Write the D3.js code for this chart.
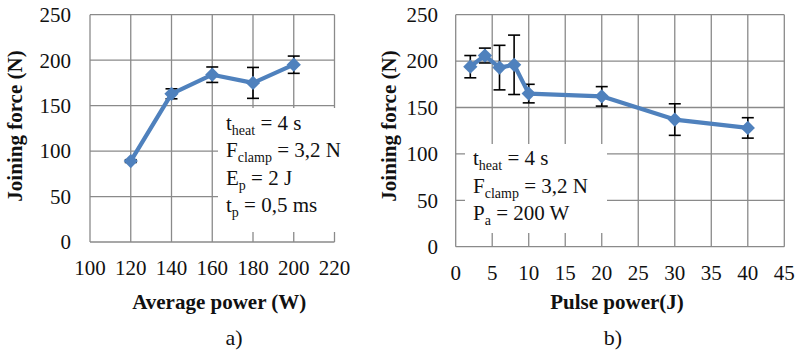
<!DOCTYPE html>
<html><head><meta charset="utf-8">
<script src="https://cdn.jsdelivr.net/npm/d3@7"></script>
<style>
html,body{margin:0;padding:0;background:#fff;}
svg{display:block;}
text{font-family:'Liberation Serif','Times New Roman','DejaVu Serif',serif;}
</style></head>
<body><svg id="c" width="797" height="351"></svg>
<script>
// ---- data ----
const yTicks = [0, 50, 100, 150, 200, 250];

const aX = [120, 140, 160, 180, 200];
const aY = [89, 163, 184, 175, 195];
const aErr = [1.5, 5.5, 8.5, 17, 9.5];
const aXTicks = [100, 120, 140, 160, 180, 200, 220];
const aNotes = [["t","heat"," = 4 s"],["F","clamp"," = 3,2 N"],["E","p"," = 2 J"],["t","p"," = 0,5 ms"]];

const bX = [2, 4, 6, 8, 10, 20, 30, 40];
const bY = [194, 206, 193, 196, 165, 162, 137, 128];
const bErr = [12, 8, 24, 32, 10, 10.5, 17, 11];
const bXTicks = [0, 5, 10, 15, 20, 25, 30, 35, 40, 45];
const bNotes = [["t","heat"," = 4 s"],["F","clamp"," = 3,2 N"],["P","a"," = 200 W"]];

const svg = d3.select("#c");
const BLUE = "#4F81BD", GRID = "#8a8a8a", FONT = "'Liberation Serif','Times New Roman',serif";

function panel(cfg){
  const x = d3.scaleLinear().domain(cfg.xDom).range([cfg.x0, cfg.x1]);
  const y = d3.scaleLinear().domain([0, 250]).range([cfg.y0, cfg.y1]);
  const g = svg.append("g").attr("font-family", FONT);
  // grid
  g.selectAll(".hg").data(yTicks).join("line")
    .attr("x1", cfg.x0).attr("x2", cfg.x1).attr("y1", d=>y(d)).attr("y2", d=>y(d))
    .attr("stroke", GRID).attr("stroke-width", 1.3);
  g.selectAll(".vg").data(cfg.xTicks).join("line")
    .attr("y1", cfg.y0).attr("y2", cfg.y1).attr("x1", d=>x(d)).attr("x2", d=>x(d))
    .attr("stroke", GRID).attr("stroke-width", 1.3);
  // note box
  g.append("rect").attr("x", cfg.box[0]).attr("y", cfg.box[1])
    .attr("width", cfg.box[2]-cfg.box[0]).attr("height", cfg.box[3]-cfg.box[1]).attr("fill", "#fff");
  const nt = g.selectAll(".note").data(cfg.notes).join("text")
    .attr("x", cfg.noteX).attr("y", (d,i)=>cfg.noteY + i*cfg.noteDy)
    .attr("font-size", 21).attr("fill", "#111");
  nt.append("tspan").text(d=>d[0]);
  nt.append("tspan").attr("font-size", 14).attr("dy", 5).text(d=>d[1]);
  nt.append("tspan").attr("dy", -5).text(d=>d[2]);
  // tick labels
  g.selectAll(".yl").data(yTicks).join("text")
    .attr("x", cfg.yLabX).attr("y", d=>y(d)).attr("dy", "0.35em")
    .attr("text-anchor", "end").attr("font-size", 21).attr("fill", "#111").text(d=>d);
  g.selectAll(".xl").data(cfg.xTicks).join("text")
    .attr("x", d=>x(d)).attr("y", cfg.y0 + 33)
    .attr("text-anchor", "middle").attr("font-size", 21).attr("fill", "#111").text(d=>d);
  // titles
  g.append("text").attr("x", (cfg.x0+cfg.x1)/2 + cfg.xtOff).attr("y", 309)
    .attr("text-anchor", "middle").attr("font-size", 21).attr("font-weight", "bold").attr("fill", "#111").text(cfg.xTitle);
  g.append("text").attr("transform", `translate(${cfg.ytX},126) rotate(-90)`)
    .attr("text-anchor", "middle").attr("font-size", 21).attr("font-weight", "bold").attr("fill", "#111").text("Joining force (N)");
  g.append("text").attr("x", cfg.labX).attr("y", 345)
    .attr("text-anchor", "middle").attr("font-size", 22).attr("fill", "#111").text(cfg.lab);
  // error bars
  const pts = cfg.xs.map((d,i)=>({x:d, y:cfg.ys[i], e:cfg.errs[i]}));
  const eb = g.selectAll(".eb").data(pts).join("g").attr("stroke", "#000").attr("stroke-width", 1.6);
  eb.append("line").attr("x1", d=>x(d.x)).attr("x2", d=>x(d.x)).attr("y1", d=>y(d.y-d.e)).attr("y2", d=>y(d.y+d.e));
  eb.append("line").attr("x1", d=>x(d.x)-6).attr("x2", d=>x(d.x)+6).attr("y1", d=>y(d.y-d.e)).attr("y2", d=>y(d.y-d.e));
  eb.append("line").attr("x1", d=>x(d.x)-6).attr("x2", d=>x(d.x)+6).attr("y1", d=>y(d.y+d.e)).attr("y2", d=>y(d.y+d.e));
  // line
  g.append("path").datum(pts).attr("fill", "none").attr("stroke", BLUE).attr("stroke-width", 4.2)
    .attr("stroke-linejoin", "round")
    .attr("d", d3.line().x(d=>x(d.x)).y(d=>y(d.y)));
  g.selectAll(".mk").data(pts).join("path")
    .attr("transform", d=>`translate(${x(d.x)},${y(d.y)})`)
    .attr("d", d3.symbol().type(d3.symbolDiamond2).size(130)).attr("fill", BLUE);
}

panel({xDom:[100,220], x0:90, x1:334.5, y0:242, y1:14.7, xTicks:aXTicks,
  xs:aX, ys:aY, errs:aErr, notes:aNotes, box:[218,108,343,232], noteX:226, noteY:129.5, noteDy:27.6,
  yLabX:71, xTitle:"Average power (W)", xtOff:7, ytX:22, lab:"a)", labX:234});
panel({xDom:[0,45], x0:455.7, x1:784.3, y0:246.7, y1:14.7, xTicks:bXTicks,
  xs:bX, ys:bY, errs:bErr, notes:bNotes, box:[465,144,607,233], noteX:473, noteY:165, noteDy:27.6,
  yLabX:438, xTitle:"Pulse power(J)", xtOff:-3, ytX:396, lab:"b)", labX:613});
</script></body></html>
